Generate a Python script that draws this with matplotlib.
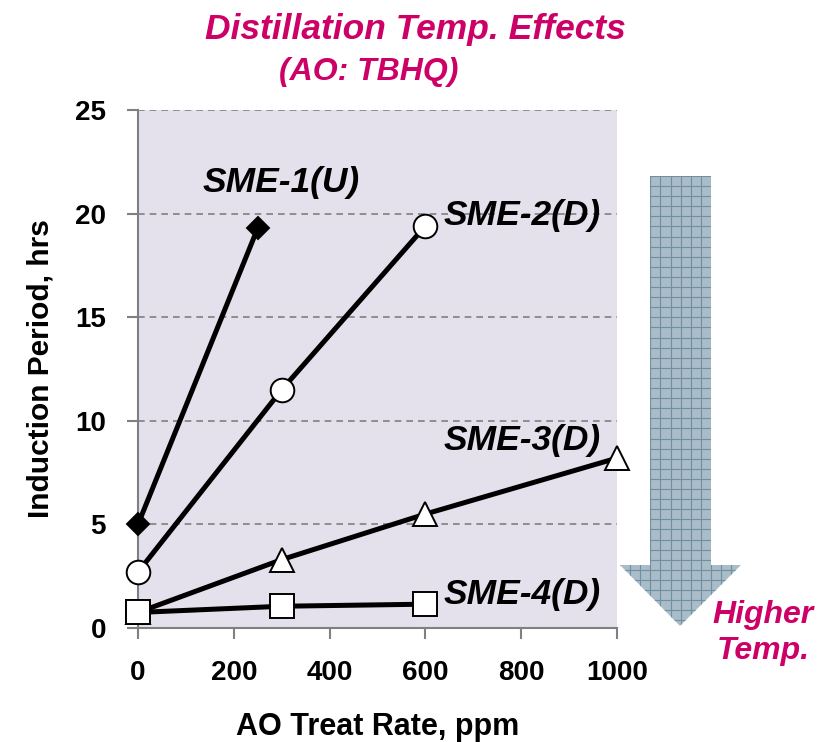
import numpy as np
import matplotlib
matplotlib.use("Agg")
import matplotlib.pyplot as plt
from matplotlib.patches import Polygon
from matplotlib.lines import Line2D

plt.rcParams["font.family"] = ["Liberation Sans", "DejaVu Sans"]

# AO treat rate (ppm) and induction period (hrs) for each sample
sme1_x = [0, 250]
sme1_y = [5.0, 19.3]
sme2_x = [0, 300, 600]
sme2_y = [2.7, 11.5, 19.4]
sme3_x = [0, 300, 600, 1000]
sme3_y = [0.75, 3.3, 5.5, 8.2]
sme4_x = [0, 300, 600]
sme4_y = [0.75, 1.05, 1.15]

x_ticks = [0, 200, 400, 600, 800, 1000]
y_ticks = [0, 5, 10, 15, 20, 25]

MAGENTA = "#CC0066"
GRAY = "#808080"

W, H = 822, 742
fig = plt.figure(figsize=(W / 100, H / 100), dpi=100)
ax = fig.add_axes([138 / W, 1 - 628 / H, (617 - 138) / W, (628 - 110) / H])
ax.set_facecolor("#E4E0EC")

line_kw = dict(color="black", lw=3.6, markeredgecolor="black",
               markeredgewidth=1.4, clip_on=False, zorder=3)
ax.plot(sme1_x, sme1_y, marker="D", ms=11.5, markerfacecolor="black", **line_kw)
ax.plot(sme2_x, sme2_y, marker="o", ms=17, markerfacecolor="white", **line_kw)
ax.plot(sme3_x, sme3_y, marker="^", ms=17, markerfacecolor="white", **line_kw)
ax.plot(sme4_x, sme4_y, marker="s", ms=17, markerfacecolor="white", **line_kw)
# the square at the origin sits on top of the triangle
ax.plot(sme4_x[:1], sme4_y[:1], marker="s", ms=17, markerfacecolor="white",
        markeredgecolor="black", markeredgewidth=1.4, clip_on=False, zorder=4)

label_kw = dict(fontsize=25.5, fontweight="bold", fontstyle="italic",
                va="center", ha="left", zorder=5)
ax.text(135, 21.5, "SME-1(U)", **label_kw)
ax.text(637, 19.9, "SME-2(D)", **label_kw)
ax.text(637, 9.07, "SME-3(D)", **label_kw)
ax.text(637, 1.6, "SME-4(D)", **label_kw)

ax.set_xlim(0, 1000)
ax.set_ylim(0, 25)
ax.set_xticks(x_ticks)
ax.set_yticks(y_ticks)
ax.set_xticklabels([str(v) for v in x_ticks], fontsize=20, fontweight="bold")
ax.set_yticklabels([str(v) for v in y_ticks], fontsize=20, fontweight="bold")
ax.tick_params(axis="both", direction="out", length=8, width=1.5, color=GRAY)
ax.tick_params(axis="y", pad=15)
ax.tick_params(axis="x", pad=15)
ax.yaxis.grid(True, linestyle=(0, (4, 3)), color=GRAY, lw=1.2)
ax.set_axisbelow(True)
for side in ["top", "right"]:
    ax.spines[side].set_visible(False)
for side in ["left", "bottom"]:
    ax.spines[side].set_color(GRAY)
    ax.spines[side].set_linewidth(1.5)

ax.set_xlabel("AO Treat Rate, ppm", fontsize=22, fontweight="bold", labelpad=19)
ax.set_ylabel("Induction Period, hrs", fontsize=21.5, fontweight="bold", labelpad=15)

fig.text(415 / W, 1 - 30 / H, "Distillation Temp. Effects", color=MAGENTA,
         fontsize=25.5, fontweight="bold", fontstyle="italic", ha="center", va="center")
fig.text(369 / W, 1 - 72 / H, "(AO: TBHQ)", color=MAGENTA,
         fontsize=23, fontweight="bold", fontstyle="italic", ha="center", va="center")

# big downward arrow with a fine grid texture, in pixel coordinates
arrow_px = np.array([[650, 176], [711, 176], [711, 565], [741, 565],
                     [680, 626], [620, 565], [650, 565]], dtype=float)
arrow_fig = np.column_stack([arrow_px[:, 0] / W, 1 - arrow_px[:, 1] / H])
arrow = Polygon(arrow_fig, closed=True, transform=fig.transFigure,
                facecolor="#A9BCC8", edgecolor="none", zorder=1)
fig.add_artist(arrow)
for gx in np.arange(620, 742, 10.1):
    ln = Line2D([gx / W, gx / W], [1 - 176 / H, 1 - 626 / H],
                transform=fig.transFigure, color="#6F8FA3", lw=0.8, zorder=2)
    fig.add_artist(ln)
    ln.set_clip_path(arrow)
for gy in np.arange(176, 627, 10.1):
    ln = Line2D([620 / W, 741 / W], [1 - gy / H, 1 - gy / H],
                transform=fig.transFigure, color="#6F8FA3", lw=0.8, zorder=2)
    fig.add_artist(ln)
    ln.set_clip_path(arrow)

fig.text(763 / W, 1 - 633 / H, "Higher\nTemp.", color=MAGENTA, fontsize=23,
         fontweight="bold", fontstyle="italic", ha="center", va="center",
         multialignment="center", linespacing=1.3)

fig.savefig("out.png", dpi=100)
